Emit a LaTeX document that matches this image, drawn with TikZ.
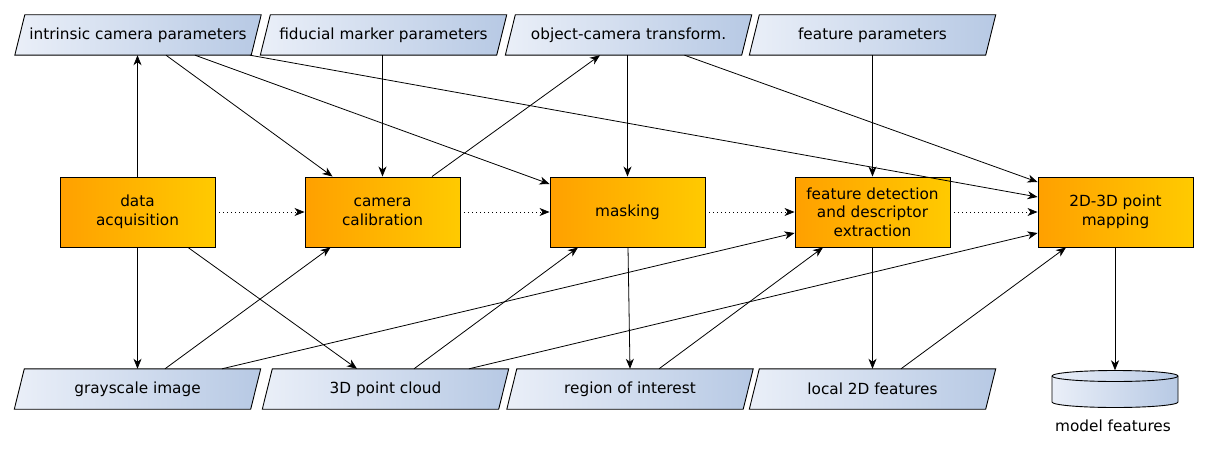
\documentclass[tikz,border=0pt]{standalone}
\usepackage{fontspec}
\setmainfont{DejaVu Sans}
\usetikzlibrary{arrows.meta,backgrounds}
\definecolor{orL}{RGB}{255,160,0}
\definecolor{orR}{RGB}{255,202,0}
\definecolor{blL}{RGB}{234,239,248}
\definecolor{blR}{RGB}{183,201,228}
\begin{document}
\begin{tikzpicture}[x=1pt,y=-1pt,
  txt/.style={font=\fontsize{15.3pt}{18.5pt}\selectfont, text=black},
  proc/.style={txt, rectangle, draw=black, line width=0.9pt, minimum width=155pt, minimum height=70pt,
    inner sep=1pt, align=center, left color=orL, right color=orR},
  param/.style={txt, rectangle, minimum width=236pt, minimum height=40pt, inner sep=0pt, align=center},
  conn/.style={draw=black, line width=0.8pt, -{Stealth[length=10pt,width=8pt,inset=3pt]}},
  dotconn/.style={conn, dash pattern=on 1pt off 3pt}
]
\useasboundingbox (0,0) rectangle (1209,452);

% process boxes
\node[proc] (da) at (137.5,212) {data\\acquisition};
\node[proc] (cc) at (382.5,212) {camera\\calibration};
\node[proc] (ma) at (627.5,212) {masking};
\node[proc] (fd) at (872.5,212) {feature detection\\and descriptor\\extraction};
\node[proc] (m2) at (1115.5,212) {2D-3D point\\mapping};

% data parameters (top)
\node[param] (p1) at (138,35) {intrinsic camera parameters};
\node[param] (p2) at (383.5,35) {fiducial marker parameters};
\node[param] (p3) at (628.5,35) {object-camera transform.};
\node[param] (p4) at (872.5,35) {feature parameters};

% data (bottom)
\node[param] (g) at (137.5,389) {grayscale image};
\node[param] (pc) at (385.5,389) {3D point cloud};
\node[param] (roi) at (630,389) {region of interest};
\node[param] (l2) at (872.5,389) {local 2D features};

% model features store
\node[rectangle, minimum width=126pt, minimum height=37pt, inner sep=0pt] (mf) at (1115,389) {};
\node[txt] (mfl) at (1113,426) {model features};

\begin{scope}[on background layer]
  \fill[white] (0,0) rectangle (1209,452);
  \foreach \n in {p1,p2,p3,p4,g,pc,roi,l2}{
    \shadedraw[left color=blL, right color=blR, draw=black, line width=0.9pt, line join=miter]
      ([xshift=-5pt]\n.south west) -- ([xshift=-5pt]\n.south east) --
      ([xshift=5pt]\n.north east) -- ([xshift=5pt]\n.north west) -- cycle;
  }
  \shadedraw[left color=blL, right color=blR, draw=black, line width=0.9pt]
    (1052,376) -- (1052,402) arc[start angle=180, end angle=0, x radius=63, y radius=5.5]
    -- (1178,376) arc[start angle=0, end angle=-180, x radius=63, y radius=5.5] -- cycle;
  \draw[black, line width=0.9pt] (1052,376) arc[start angle=180, end angle=0, x radius=63, y radius=5.5];
\end{scope}

% flow (dotted)
\draw[dotconn] (da.east) -- (cc.west);
\draw[dotconn] (cc.east) -- (ma.west);
\draw[dotconn] (ma.east) -- (fd.west);
\draw[dotconn] (fd.east) -- (m2.west);

% top connections
\draw[conn] (da.north) -- (p1.south -| da.north);
\draw[conn] ([xshift=28pt]p1.south) -- ([xshift=-50pt]cc.north);
\draw[conn] ([xshift=57pt]p1.south) -- ([yshift=28pt]ma.west);
\draw[conn] ([xshift=112pt]p1.south) -- ([yshift=15pt]m2.west);
\draw[conn] (p2.south -| cc.north) -- (cc.north);
\draw[conn] ([xshift=49.5pt]cc.north) -- ([xshift=-28.5pt]p3.south);
\draw[conn] (p3.south -| ma.north) -- (ma.north);
\draw[conn] ([xshift=56pt]p3.south) -- ([yshift=30pt]m2.west);
\draw[conn] (p4.south) -- (fd.north);

% bottom connections
\draw[conn] (da.south) -- (g.north -| da.south);
\draw[conn] ([xshift=50.5pt]da.south) -- ([xshift=-28.5pt]pc.north);
\draw[conn] ([xshift=27.5pt]g.north) -- ([xshift=-52pt]cc.south);
\draw[conn] ([xshift=84.5pt]g.north) -- ([yshift=-21pt]fd.west);
\draw[conn] ([xshift=28.5pt]pc.north) -- ([xshift=-49.5pt]ma.south);
\draw[conn] ([xshift=83.5pt]pc.north) -- ([yshift=-21pt]m2.west);
\draw[conn] ([xshift=0.5pt]ma.south) -- (roi.north);
\draw[conn] ([xshift=29pt]roi.north) -- ([xshift=-49.5pt]fd.south);
\draw[conn] (fd.south) -- (l2.north);
\draw[conn] ([xshift=28.5pt]l2.north) -- ([xshift=-49.5pt]m2.south);
\draw[conn] (m2.south -| mf.north) -- (mf.north);
\end{tikzpicture}
\end{document}
